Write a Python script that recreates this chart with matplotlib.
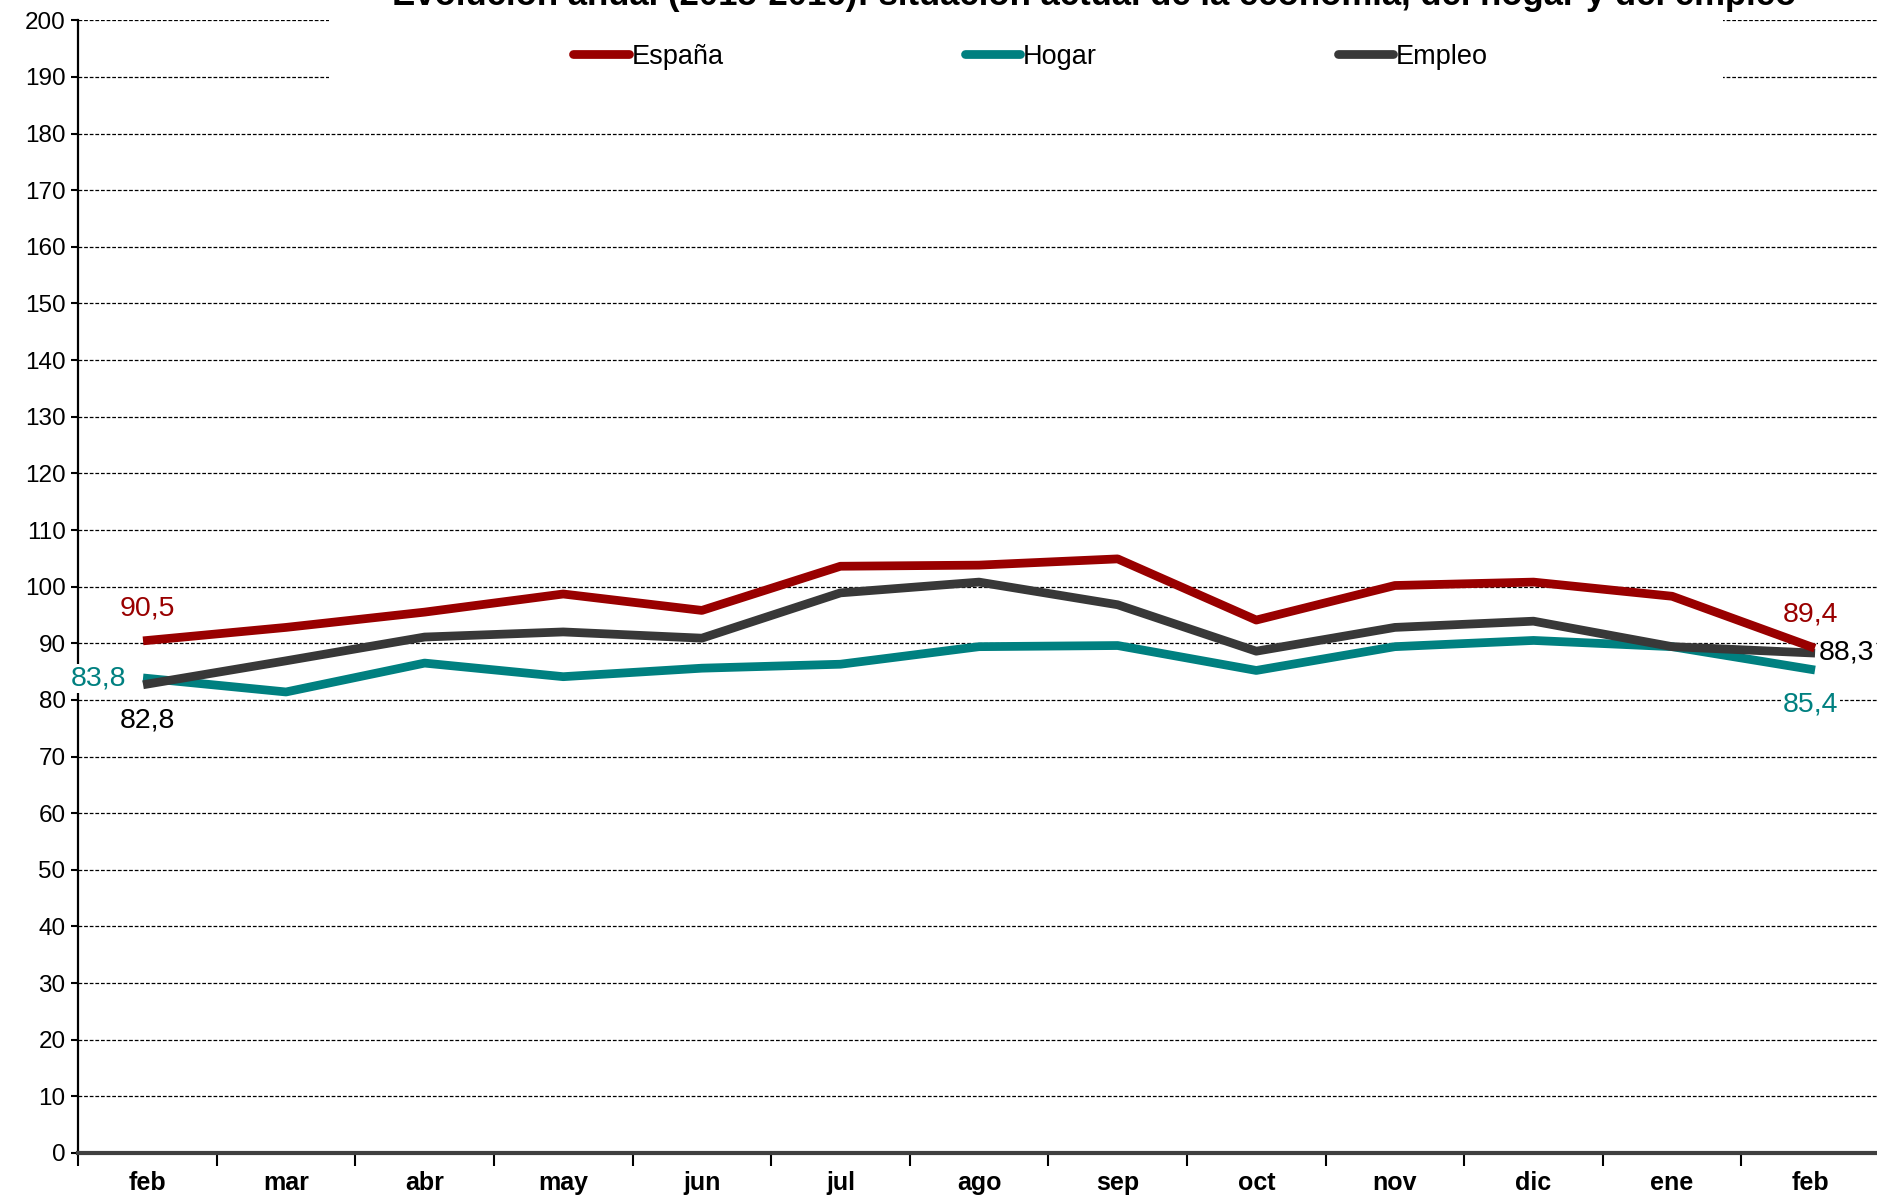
import matplotlib
matplotlib.use("Agg")
import matplotlib.pyplot as plt
from matplotlib.patches import Rectangle

plt.rcParams['font.family'] = ['Liberation Sans', 'DejaVu Sans']

# datos
meses = ['feb', 'mar', 'abr', 'may', 'jun', 'jul', 'ago', 'sep', 'oct', 'nov', 'dic', 'ene', 'feb']
espana = [90.5, 92.8, 95.5, 98.7, 95.8, 103.6, 103.8, 104.9, 94.1, 100.2, 100.8, 98.3, 89.4]
hogar = [83.8, 81.4, 86.5, 84.1, 85.6, 86.3, 89.4, 89.6, 85.2, 89.4, 90.5, 89.4, 85.4]
empleo = [82.8, 86.9, 91.1, 92.0, 90.9, 98.9, 100.8, 96.8, 88.6, 92.8, 93.9, 89.4, 88.3]

c_esp = '#990000'
c_hog = '#008080'
c_emp = '#383838'

fig = plt.figure(figsize=(18.77, 11.96), dpi=100)
ax = fig.add_axes([0.0416, 0.036, 0.960, 0.947])

x = list(range(len(meses)))
ax.plot(x, espana, color=c_esp, lw=6.3, label='España', zorder=4)
ax.plot(x, hogar, color=c_hog, lw=6.3, label='Hogar', zorder=3)
ax.plot(x, empleo, color=c_emp, lw=6.3, label='Empleo', zorder=3.5)

ax.set_xlim(-0.5, 12.5)
ax.set_ylim(0, 200)
ax.set_yticks(range(0, 201, 10))
ax.yaxis.grid(True, color='black', linestyle=(0, (3, 1.5)), linewidth=0.9)
ax.set_axisbelow(True)

# ticks en los limites, etiquetas en el centro
ax.set_xticks([i + 0.5 for i in range(-1, 13)])
ax.set_xticklabels([])
ax.set_xticks(x, minor=True)
ax.set_xticklabels(meses, minor=True, fontsize=18, fontweight='bold')
ax.tick_params(axis='x', which='major', length=9, width=1.5, direction='out')
ax.tick_params(axis='x', which='minor', length=0, pad=13)
ax.tick_params(axis='y', length=5, width=1.5, labelsize=17.5, pad=4)

for s in ['top', 'right']:
    ax.spines[s].set_visible(False)
ax.spines['left'].set_linewidth(1.6)
ax.spines['bottom'].set_linewidth(3)
ax.spines['bottom'].set_color('#404040')

# caja blanca de la leyenda
ax.add_patch(Rectangle((0.139, 0.925), 0.774, 0.09, transform=ax.transAxes,
                       facecolor='white', edgecolor='none', zorder=5, clip_on=False))
leg = ax.legend(loc='center', bbox_to_anchor=(0.5286, 0.968), ncol=3, frameon=False,
                fontsize=19.5, handlelength=2.05, handletextpad=0.1, columnspacing=8.9)
leg.set_zorder(6)
for h in leg.get_lines():
    h.set_solid_capstyle('round')

bb = dict(facecolor='white', edgecolor='none', pad=1)
fs = 20.5
ax.annotate('90,5', (0, espana[0]), xytext=(0, 23), textcoords='offset points',
            ha='center', va='center', color=c_esp, fontsize=fs)
ax.annotate('83,8', (0, hogar[0]), xytext=(-35, 0), textcoords='offset points',
            ha='center', va='center', color=c_hog, fontsize=fs, bbox=bb, zorder=7)
ax.annotate('82,8', (0, empleo[0]), xytext=(0, -26), textcoords='offset points',
            ha='center', va='center', color='black', fontsize=fs)
ax.annotate('89,4', (12, espana[-1]), xytext=(0, 23), textcoords='offset points',
            ha='center', va='center', color=c_esp, fontsize=fs)
ax.annotate('88,3', (12, empleo[-1]), xytext=(6, 0), textcoords='offset points',
            ha='left', va='center', color='black', fontsize=fs, bbox=bb, zorder=7)
ax.annotate('85,4', (12, hogar[-1]), xytext=(0, -25), textcoords='offset points',
            ha='center', va='center', color=c_hog, fontsize=fs, bbox=bb, zorder=7)

fig.text(0.583, 0.9958, 'Evolución anual (2015-2016): situación actual de la economía, del hogar y del empleo',
         ha='center', va='baseline', fontsize=25, fontweight='bold', zorder=10)

fig.savefig('out.png', dpi=100)
